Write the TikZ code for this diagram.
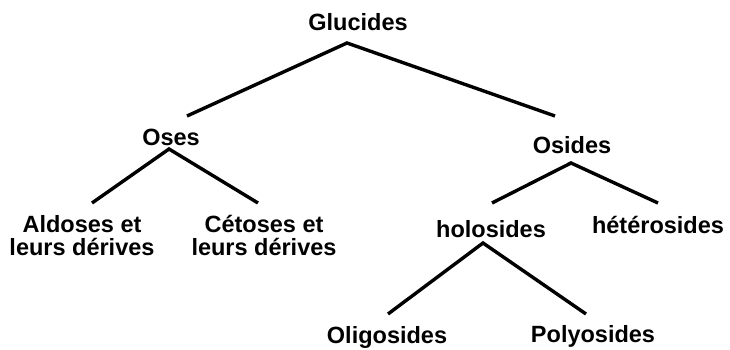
\documentclass[tikz,border=0pt]{standalone}
\usepackage{fontspec}
\setmainfont{Liberation Sans}
\begin{document}
\begin{tikzpicture}[x=1pt,y=-1pt,
  lbl/.style={inner sep=0pt,anchor=base,font=\fontsize{23.5}{23}\selectfont\bfseries,align=center},
  branch/.style={line width=3.4pt,line join=miter}]
\useasboundingbox (0,0) rectangle (730,350);
\node[lbl] (glu) at (358,31) {Glucides};
\node[lbl] (oses) at (171,145) {Oses};
\node[lbl] (osides) at (572,153) {Osides};
\node[lbl] (ald) at (82,255) {Aldoses et\\leurs dérives};
\node[lbl] (cet) at (264,255) {Cétoses et\\leurs dérives};
\node[lbl] (holo) at (491,237) {holosides};
\node[lbl] (hetero) at (658,233) {hétérosides};
\node[lbl] (oligo) at (387,343) {Oligosides};
\node[lbl] (poly) at (593,342) {Polyosides};
\coordinate (a1) at (347,43); \coordinate (a1l) at (187,116); \coordinate (a1r) at (555,116);
\coordinate (a2) at (169,149); \coordinate (a2l) at (92,203); \coordinate (a2r) at (258,203);
\coordinate (a3) at (571,163); \coordinate (a3l) at (492,203); \coordinate (a3r) at (658,203);
\coordinate (a4) at (483,243); \coordinate (a4l) at (388,314); \coordinate (a4r) at (586,314);
\draw[branch] (a1l) -- (a1) -- (a1r);
\draw[branch] (a2l) -- (a2) -- (a2r);
\draw[branch] (a3l) -- (a3) -- (a3r);
\draw[branch] (a4l) -- (a4) -- (a4r);
\end{tikzpicture}
\end{document}
